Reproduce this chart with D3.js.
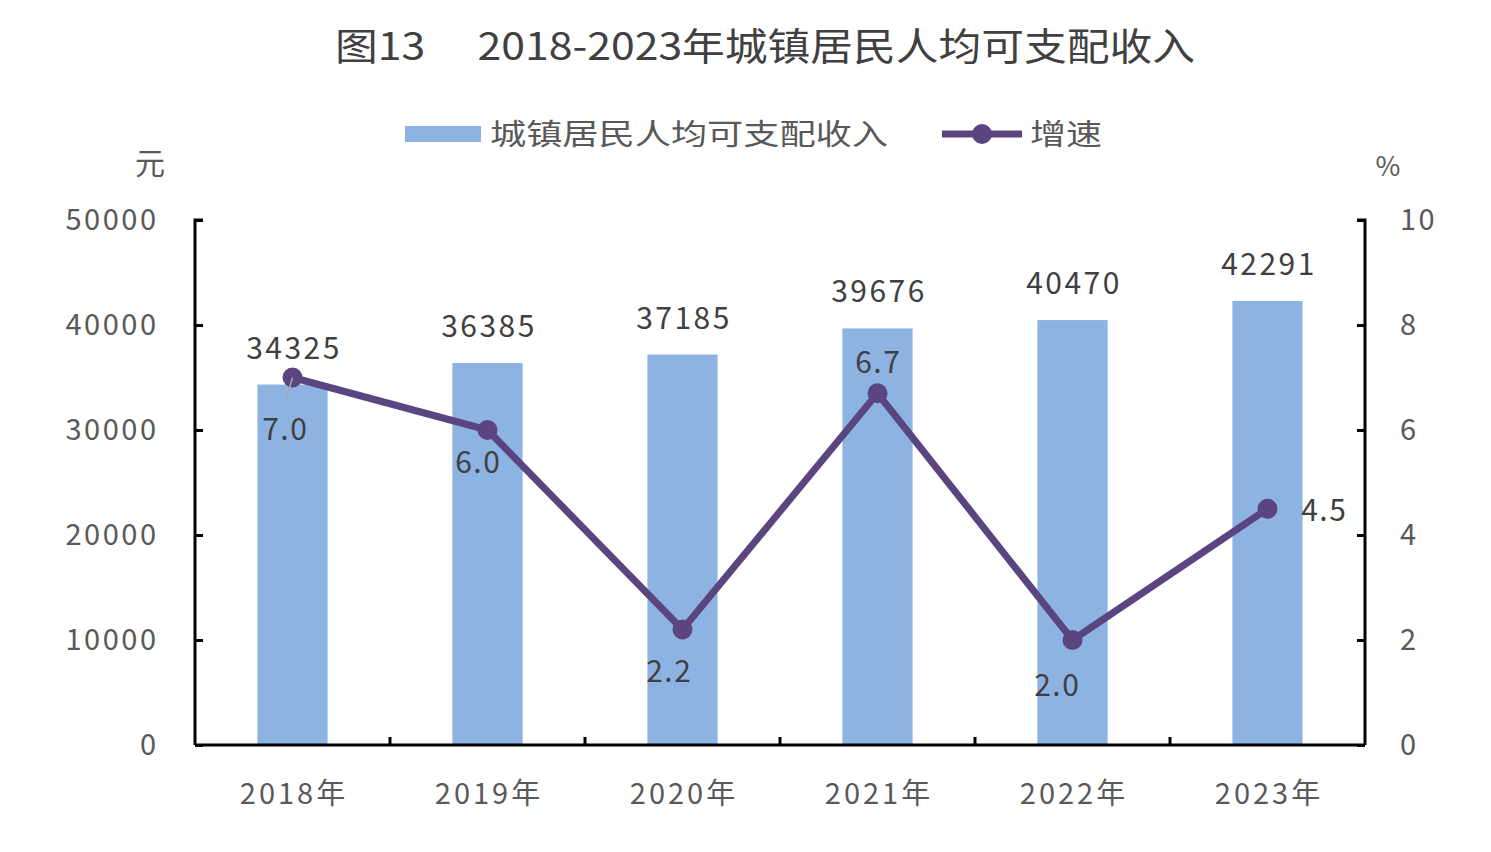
<!DOCTYPE html>
<html>
<head>
<meta charset="utf-8">
<script src="https://cdn.jsdelivr.net/npm/d3@7"></script>
<style>
  body { margin: 0; background: #fff; }
  text { font-family: "Noto Sans CJK SC", "DejaVu Sans", sans-serif; }
</style>
</head>
<body>
<div id="chart"></div>
<script>
var years = ["2018年", "2019年", "2020年", "2021年", "2022年", "2023年"];
var income = [34325, 36385, 37185, 39676, 40470, 42291];
var growth = [7.0, 6.0, 2.2, 6.7, 2.0, 4.5];
var leftTicks = [0, 10000, 20000, 30000, 40000, 50000];
var rightTicks = [0, 2, 4, 6, 8, 10];

var width = 1491, height = 852;
var margin = {top: 220, right: 126, bottom: 107, left: 195};

var barColor = "#8db3e2";
var lineColor = "#5b4580";
var textColor = "#595959";

var svg = d3.select("#chart").append("svg")
    .attr("width", width)
    .attr("height", height);

var x = d3.scaleBand().domain(years).range([margin.left, width - margin.right]).paddingInner(0.64).paddingOuter(0.32);
var xb = d3.scaleBand().domain(years).range([margin.left, width - margin.right]);
var yL = d3.scaleLinear().domain([0, 50000]).range([height - margin.bottom, margin.top]);
var yR = d3.scaleLinear().domain([0, 10]).range([height - margin.bottom, margin.top]);

// title
svg.append("text")
    .attr("x", 335).attr("y", 60)
    .attr("font-size", 38)
    .attr("fill", "#404040")
    .attr("textLength", 860)
    .attr("lengthAdjust", "spacingAndGlyphs")
    .text("图13\u3000 2018-2023年城镇居民人均可支配收入");

// legend
svg.append("rect").attr("x", 405).attr("y", 126).attr("width", 76).attr("height", 16).attr("fill", barColor);
svg.append("text").attr("x", 490).attr("y", 145).attr("font-size", 29).attr("fill", textColor)
    .attr("textLength", 398).attr("lengthAdjust", "spacingAndGlyphs")
    .text("城镇居民人均可支配收入");
svg.append("line").attr("x1", 942).attr("x2", 1022).attr("y1", 134).attr("y2", 134)
    .attr("stroke", lineColor).attr("stroke-width", 7);
svg.append("circle").attr("cx", 982).attr("cy", 134).attr("r", 10).attr("fill", lineColor);
svg.append("text").attr("x", 1030).attr("y", 145).attr("font-size", 29).attr("fill", textColor)
    .attr("textLength", 72).attr("lengthAdjust", "spacingAndGlyphs")
    .text("增速");

// unit labels
svg.append("text").attr("x", 150).attr("y", 174).attr("text-anchor", "middle").attr("font-size", 30).attr("fill", textColor).text("元");
svg.append("text").attr("x", 1388).attr("y", 176).attr("text-anchor", "middle").attr("font-size", 27).attr("fill", textColor).text("%");

// bars
svg.selectAll(".bar").data(income).enter().append("rect")
    .attr("class", "bar")
    .attr("x", function(d, i) { return x(years[i]); })
    .attr("width", x.bandwidth())
    .attr("y", function(d) { return yL(d); })
    .attr("height", function(d) { return yL(0) - yL(d); })
    .attr("fill", barColor);

svg.selectAll(".barLabel").data(income).enter().append("text")
    .attr("class", "barLabel")
    .attr("x", function(d, i) { return x(years[i]) + x.bandwidth() / 2; })
    .attr("y", function(d) { return yL(d) - 26; })
    .attr("text-anchor", "middle")
    .attr("font-size", 30)
    .attr("letter-spacing", 2.5)
    .attr("dx", 1.5)
    .attr("fill", "#404040")
    .text(function(d) { return d; });

// axes
var axisL = svg.append("g").attr("transform", "translate(" + margin.left + ",0)")
    .call(d3.axisRight(yL).tickValues(leftTicks).tickSize(8).tickFormat(""));
var axisR = svg.append("g").attr("transform", "translate(" + (width - margin.right) + ",0)")
    .call(d3.axisLeft(yR).tickValues(rightTicks).tickSize(8).tickFormat(""));
var axisB = svg.append("g").attr("transform", "translate(0," + (height - margin.bottom) + ")")
    .call(d3.axisTop(xb).tickSize(0).tickFormat(""));
[axisL, axisR, axisB].forEach(function(g) {
    g.selectAll("path").attr("stroke", "#000").attr("stroke-width", 3);
    g.selectAll("line").attr("stroke", "#000").attr("stroke-width", 3);
});
axisL.select(".domain").attr("d", "M8," + yL(50000) + "H0V" + yL(0));
axisR.select(".domain").attr("d", "M-8," + yR(10) + "H0V" + yR(0));
axisB.select(".domain").attr("d", "M" + margin.left + ",0H" + (width - margin.right));

// x category boundary ticks
svg.selectAll(".xtick").data(years.slice(1)).enter().append("line")
    .attr("x1", function(d) { return xb(d); })
    .attr("x2", function(d) { return xb(d); })
    .attr("y1", yL(0)).attr("y2", yL(0) - 8)
    .attr("stroke", "#000").attr("stroke-width", 3);

// tick labels
svg.selectAll(".lt").data(leftTicks).enter().append("text")
    .attr("x", 156).attr("y", function(d) { return yL(d) + 10; })
    .attr("text-anchor", "end").attr("font-size", 29).attr("fill", textColor)
    .attr("letter-spacing", 2.5).attr("dx", 2.5)
    .text(function(d) { return d; });
svg.selectAll(".rt").data(rightTicks).enter().append("text")
    .attr("x", 1400).attr("y", function(d) { return yR(d) + 10; })
    .attr("text-anchor", "start").attr("font-size", 29).attr("fill", textColor)
    .attr("letter-spacing", 2.5)
    .text(function(d) { return d; });
svg.selectAll(".xt").data(years).enter().append("text")
    .attr("x", function(d) { return xb(d) + xb.bandwidth() / 2; })
    .attr("y", 804)
    .attr("text-anchor", "middle").attr("font-size", 29).attr("fill", textColor)
    .attr("letter-spacing", 3).attr("dx", 1.5)
    .text(function(d) { return d; });

// growth line
var line = d3.line()
    .x(function(d, i) { return xb(years[i]) + xb.bandwidth() / 2; })
    .y(function(d) { return yR(d); });
svg.append("path").datum(growth)
    .attr("d", line)
    .attr("fill", "none")
    .attr("stroke", lineColor)
    .attr("stroke-width", 7)
    .attr("stroke-linejoin", "round");
svg.selectAll(".dot").data(growth).enter().append("circle")
    .attr("cx", function(d, i) { return xb(years[i]) + xb.bandwidth() / 2; })
    .attr("cy", function(d) { return yR(d); })
    .attr("r", 10)
    .attr("fill", lineColor);

// growth labels, offsets from the point
var labelOffsets = [[-8, 62], [-10, 43], [-14, 52], [0, -20], [-16, 56], [56, 12]];
svg.append("line")
    .attr("x1", xb(years[0]) + xb.bandwidth() / 2).attr("y1", yR(growth[0]))
    .attr("x2", xb(years[0]) + xb.bandwidth() / 2 - 6).attr("y2", yR(growth[0]) + 20)
    .attr("stroke", "#a6a6a6").attr("stroke-width", 1.5);
svg.selectAll(".gl").data(growth).enter().append("text")
    .attr("x", function(d, i) { return xb(years[i]) + xb.bandwidth() / 2 + labelOffsets[i][0]; })
    .attr("y", function(d, i) { return yR(d) + labelOffsets[i][1]; })
    .attr("text-anchor", "middle").attr("font-size", 30).attr("fill", "#404040")
    .attr("letter-spacing", 1.5).attr("dx", 0.75)
    .text(function(d) { return d.toFixed(1); });
</script>
</body>
</html>
